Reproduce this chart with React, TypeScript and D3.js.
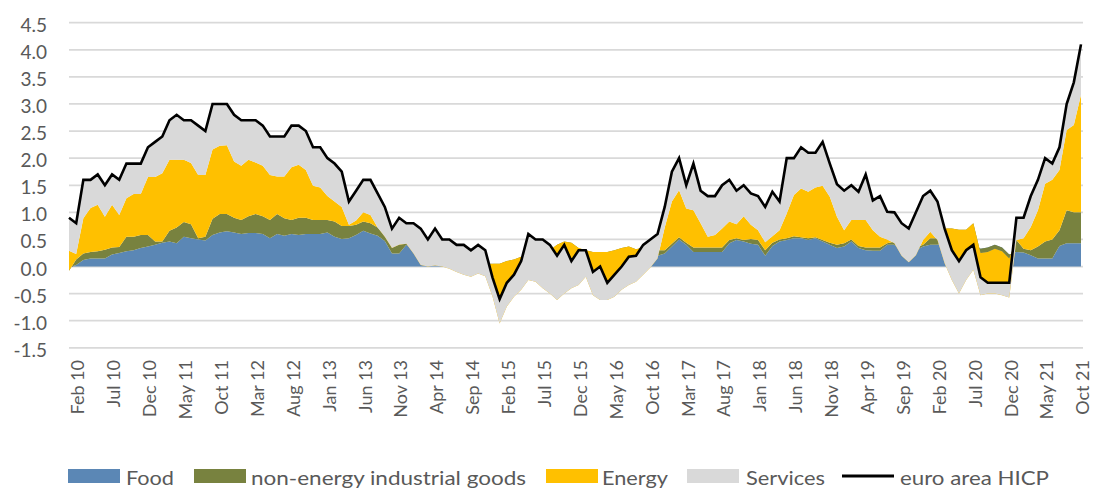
import React from "react";
import * as d3 from "d3";

const MONTHS = ["Jan","Feb","Mar","Apr","May","Jun","Jul","Aug","Sep","Oct","Nov","Dec"];
const categories: string[] = [];
for (let yr = 2010; yr <= 2021; yr++) {
  for (let m = 0; m < 12; m++) {
    if (yr === 2021 && m > 9) break;
    categories.push(`${MONTHS[m]} ${String(yr).slice(2)}`);
  }
}

const tickLabels = ["Feb 10","Jul 10","Dec 10","May 11","Oct 11","Mar 12","Aug 12","Jan 13","Jun 13","Nov 13","Apr 14","Sep 14","Feb 15","Jul 15","Dec 15","May 16","Oct 16","Mar 17","Aug 17","Jan 18","Jun 18","Nov 18","Apr 19","Sep 19","Feb 20","Jul 20","Dec 20","May 21","Oct 21"];

const yTicks = [-1.5,-1.0,-0.5,0,0.5,1.0,1.5,2.0,2.5,3.0,3.5,4.0,4.5];

const food = [
  -0.02,0.03,0.12,0.15,0.15,0.15,0.22,0.25,0.28,0.30,
  0.34,0.37,0.40,0.44,0.46,0.43,0.55,0.52,0.50,0.48,
  0.58,0.63,0.65,0.63,0.60,0.62,0.62,0.60,0.52,0.60,
  0.57,0.60,0.58,0.60,0.60,0.60,0.63,0.55,0.51,0.52,
  0.58,0.66,0.61,0.57,0.47,0.24,0.24,0.40,0.30,0.25,
  0.20,0.15,0.15,0.15,0.00,0.00,0.05,0.05,0.05,0.05,
  0.03,0.05,0.07,0.10,0.12,0.12,0.15,0.15,0.20,0.25,
  0.24,0.20,0.15,0.15,0.15,0.15,0.15,0.17,0.20,0.17,
  0.20,0.20,0.20,0.24,0.37,0.50,0.40,0.27,0.27,0.27,
  0.27,0.27,0.43,0.49,0.46,0.42,0.40,0.20,0.38,0.46,
  0.49,0.52,0.52,0.49,0.52,0.46,0.40,0.34,0.37,0.46,
  0.34,0.30,0.29,0.29,0.40,0.40,0.30,0.30,0.30,0.37,
  0.40,0.40,0.45,0.55,0.55,0.50,0.45,0.33,0.35,0.40,
  0.35,0.22,0.27,0.26,0.21,0.15,0.15,0.15,0.38,0.43,
  0.43,0.43
];

const neig = [
  -0.06,0.10,0.12,0.12,0.13,0.16,0.13,0.11,0.27,0.25,
  0.24,0.21,0.06,0.02,0.20,0.29,0.27,0.26,0.02,0.07,
  0.30,0.34,0.32,0.27,0.26,0.31,0.35,0.33,0.34,0.37,
  0.32,0.26,0.32,0.30,0.26,0.26,0.23,0.28,0.24,0.23,
  0.19,0.17,0.19,0.15,0.10,0.25,0.20,0.10,0.05,0.05,
  0.05,0.05,0.00,0.00,0.00,0.00,0.00,0.00,0.00,0.00,
  0.02,0.05,0.06,0.08,0.10,0.12,0.12,0.15,0.20,0.21,
  0.20,0.14,0.15,0.12,0.12,0.12,0.15,0.17,0.17,0.15,
  0.15,0.15,0.10,0.06,0.05,0.04,0.04,0.08,0.08,0.08,
  0.08,0.08,0.06,0.03,0.03,0.09,0.09,0.10,0.06,0.04,
  0.03,0.04,0.02,0.03,0.02,0.03,0.04,0.06,0.06,0.04,
  0.04,0.05,0.06,0.06,0.03,0.06,0.05,0.05,0.05,0.03,
  0.12,0.12,0.25,0.15,0.13,0.18,0.35,-0.08,-0.08,-0.07,
  -0.07,-0.07,0.22,0.07,0.09,0.22,0.31,0.35,0.29,0.61,
  0.57,0.57
];

const energy = [
  0.37,0.10,0.65,0.81,0.86,0.61,0.79,0.59,0.71,0.79,
  0.76,1.07,1.19,1.26,1.31,1.25,1.15,1.13,1.17,1.14,
  1.28,1.26,1.27,1.04,1.00,1.04,0.95,0.93,0.83,0.69,
  0.77,0.97,0.98,0.88,0.63,0.60,0.44,0.37,0.35,0.02,
  0.08,0.17,0.15,0.00,-0.02,-0.15,-0.04,-0.08,-0.11,-0.27,
  -0.25,-0.18,-0.15,-0.19,-0.10,-0.15,-0.24,-0.18,-0.23,-0.60,
  -1.10,-0.84,-0.69,-0.61,-0.47,-0.52,-0.67,-0.80,-1.02,-0.96,
  -0.84,-0.68,-0.49,-0.80,-0.89,-0.89,-0.86,-0.77,-0.71,-0.60,
  -0.50,-0.37,-0.15,0.42,0.78,0.87,0.63,0.69,0.45,0.20,
  0.23,0.35,0.34,0.26,0.44,0.26,0.18,0.15,0.12,0.17,
  0.46,0.76,0.90,0.86,0.92,1.00,0.85,0.52,0.24,0.36,
  0.48,0.51,0.32,0.20,0.07,-0.03,-0.15,-0.27,-0.14,0.09,
  0.12,-0.03,-0.64,-0.95,-1.18,-0.93,-0.86,-0.78,-0.77,-0.83,
  -0.81,-0.72,0.00,0.19,0.43,0.67,1.07,1.10,1.11,1.48,
  1.61,2.17
];

const services = [
  0.61,0.57,0.71,0.52,0.56,0.58,0.56,0.65,0.64,0.56,
  0.56,0.55,0.65,0.68,0.73,0.83,0.73,0.79,0.91,0.81,
  0.84,0.77,0.76,0.86,0.84,0.73,0.78,0.74,0.71,0.74,
  0.74,0.77,0.72,0.72,0.71,0.74,0.70,0.70,0.65,0.43,
  0.55,0.60,0.65,0.63,0.55,0.36,0.50,0.38,0.56,0.67,
  0.50,0.68,0.50,0.54,0.50,0.55,0.49,0.53,0.48,0.35,
  0.45,0.44,0.41,0.53,0.85,0.78,0.90,0.90,0.82,0.90,
  0.50,0.64,0.49,0.43,0.62,0.32,0.41,0.43,0.52,0.48,
  0.55,0.52,0.45,0.38,0.55,0.59,0.43,0.86,0.60,0.75,
  0.72,0.80,0.77,0.62,0.57,0.58,0.63,0.65,0.82,0.53,
  1.02,0.68,0.76,0.72,0.64,0.81,0.61,0.60,0.73,0.64,
  0.52,0.84,0.55,0.75,0.51,0.57,0.60,0.62,0.79,0.81,
  0.76,0.71,0.64,0.55,0.60,0.55,0.46,0.33,0.20,0.20,
  0.23,0.27,0.41,0.38,0.57,0.56,0.47,0.30,0.42,0.48,
  0.79,0.93
];

const hicp = [
  0.9,0.8,1.6,1.6,1.7,1.5,1.7,1.6,1.9,1.9,
  1.9,2.2,2.3,2.4,2.7,2.8,2.7,2.7,2.6,2.5,
  3.0,3.0,3.0,2.8,2.7,2.7,2.7,2.6,2.4,2.4,
  2.4,2.6,2.6,2.5,2.2,2.2,2.0,1.9,1.75,1.2,
  1.4,1.6,1.6,1.35,1.1,0.7,0.9,0.8,0.8,0.7,
  0.5,0.7,0.5,0.5,0.4,0.4,0.3,0.4,0.3,-0.2,
  -0.6,-0.3,-0.15,0.1,0.6,0.5,0.5,0.4,0.2,0.4,
  0.1,0.3,0.3,-0.1,0.0,-0.3,-0.15,0.0,0.18,0.2,
  0.4,0.5,0.6,1.1,1.75,2.0,1.5,1.9,1.4,1.3,
  1.3,1.5,1.6,1.4,1.5,1.35,1.3,1.1,1.38,1.2,
  2.0,2.0,2.2,2.1,2.1,2.3,1.9,1.52,1.4,1.5,
  1.38,1.7,1.22,1.3,1.01,1.0,0.8,0.7,1.0,1.3,
  1.4,1.2,0.7,0.3,0.1,0.3,0.4,-0.2,-0.3,-0.3,
  -0.3,-0.3,0.9,0.9,1.3,1.6,2.0,1.9,2.2,3.0,
  3.4,4.1
];

const seriesNames = ["Food", "non-energy industrial goods", "Energy", "Services"];
const seriesColors = ["#5B87B5", "#78823F", "#FFC000", "#D9D9D9"];
const lineName = "euro area HICP";

const W = 1094;
const H = 488;
const FONT = "Lato, 'Open Sans', sans-serif";
const TEXT = "#595959";

export default function App() {
  const x = d3.scalePoint<string>().domain(categories).range([69, 1081]);
  const y = d3.scaleLinear().domain([-1.5, 4.5]).range([347.8, 22.7]);

  const values = [food, neig, energy, services];
  const rows = categories.map((c, i) => {
    const r: Record<string, number> = {};
    seriesNames.forEach((n, k) => (r[n] = values[k][i]));
    return r;
  });
  const stacked = d3.stack<Record<string, number>>().keys(seriesNames).offset(d3.stackOffsetNone)(rows);

  const area = d3
    .area<d3.SeriesPoint<Record<string, number>>>()
    .x((_, i) => x(categories[i]) as number)
    .y0((d) => y(d[0]))
    .y1((d) => y(d[1]));

  const line = d3
    .line<number>()
    .x((_, i) => x(categories[i]) as number)
    .y((d) => y(d));

  const legendItems = [
    { label: seriesNames[0], color: seriesColors[0], sx: 68, tx: 126, tw: 48 },
    { label: seriesNames[1], color: seriesColors[1], sx: 194, tx: 251, tw: 275 },
    { label: seriesNames[2], color: seriesColors[2], sx: 546, tx: 602, tw: 66 },
    { label: seriesNames[3], color: seriesColors[3], sx: 687, tx: 746, tw: 79 },
  ];

  return (
    <svg
      width={W}
      height={H}
      style={{ position: "absolute", left: 0, top: 0, background: "#fff" }}
      fontFamily={FONT}
    >
      {yTicks.map((t) => (
        <line key={"g" + t} x1={69} x2={1083} y1={y(t)} y2={y(t)} stroke="#D9D9D9" strokeWidth={1.75} />
      ))}
      {stacked.map((s, k) => (
        <path key={seriesNames[k]} d={area(s) || ""} fill={seriesColors[k]} stroke="none" />
      ))}
      <path d={line(hicp) || ""} fill="none" stroke="#000" strokeWidth={2.6} strokeLinejoin="miter" />
      {yTicks.map((t) => (
        <text key={"y" + t} x={47} y={y(t) + 1.5} textAnchor="end" dominantBaseline="central" fontSize={19} fill={TEXT}>
          {t.toFixed(1)}
        </text>
      ))}
      {tickLabels.map((lab) => (
        <text
          key={lab}
          transform={`translate(${(x(lab) as number) + 2},360) rotate(-90)`}
          textAnchor="end"
          dy="0.35em"
          fontSize={18}
          fill={TEXT}
        >
          {lab}
        </text>
      ))}
      {legendItems.map((it) => (
        <g key={it.label}>
          <rect x={it.sx} y={469} width={52} height={14} fill={it.color} />
          <text x={it.tx} y={477} dominantBaseline="central" fontSize={20} fill={TEXT} textLength={it.tw} lengthAdjust="spacingAndGlyphs">
            {it.label}
          </text>
        </g>
      ))}
      <line x1={842} x2={894} y1={476} y2={476} stroke="#000" strokeWidth={3} />
      <text x={900} y={477} dominantBaseline="central" fontSize={20} fill={TEXT} textLength={149} lengthAdjust="spacingAndGlyphs">
        {lineName}
      </text>
    </svg>
  );
}
